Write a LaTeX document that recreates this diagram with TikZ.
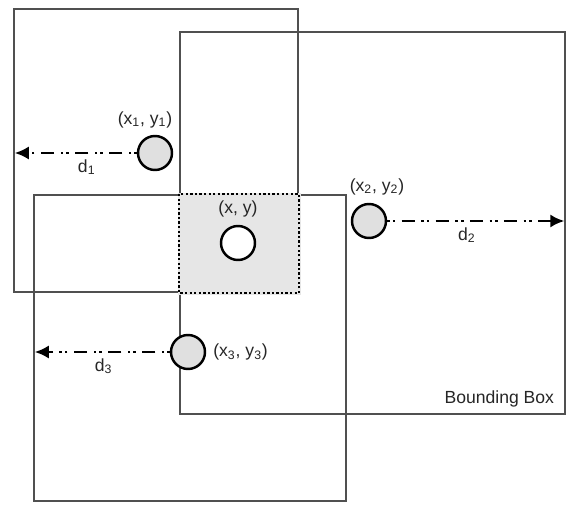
\documentclass[tikz,border=0pt]{standalone}
\usepackage{fontspec}
\setmainfont{Liberation Sans}
\usetikzlibrary{arrows.meta, positioning}
\definecolor{boxgray}{HTML}{505050}
\definecolor{ptgray}{HTML}{E0E0E0}
\definecolor{overlapgray}{HTML}{E6E6E6}

\begin{document}
\begin{tikzpicture}[
    region/.style={draw=boxgray, line width=1.2pt, anchor=north west, inner sep=0pt},
    pt/.style={circle, draw=black, line width=1.4pt, fill=ptgray,
               minimum size=0.68cm, inner sep=0pt},
    lbl/.style={font=\fontsize{10}{12}\selectfont, text=black!85, inner sep=1pt},
    dist/.style={-{Latex[length=8pt, width=7.5pt]}, line width=1.4pt,
                 dash pattern=on 1.4pt off 1.8pt on 1.4pt off 3.6pt on 7.6pt off 3.6pt}
  ]
  \useasboundingbox (0,0) rectangle (11.38,-10.26);

  % the three boxes
  \node[region, minimum width=5.68cm, minimum height=5.66cm] (box1) at (0.26,-0.16) {};
  \node[region, minimum width=7.70cm, minimum height=7.64cm] (box2) at (3.58,-0.62) {};
  \node[region, minimum width=6.24cm, minimum height=6.12cm] (box3) at (0.66,-3.88) {};
  \node[lbl, anchor=south east] (bbox) at ([shift={(-0.2,0.12)}]box2.south east) {Bounding Box};

  % overlap of all three
  \filldraw[fill=overlapgray, draw=overlapgray, line width=1.6pt]
    (box2.west |- box3.north) rectangle (box1.south east);
  \draw[line width=1.3pt, dash pattern=on 1.3pt off 1.3pt]
    (box2.west |- box3.north) rectangle (box1.south east);

  % points
  \node[pt] (p1) at (3.10,-3.06) {};
  \node[pt, fill=white] (p) at (4.76,-4.86) {};
  \node[pt] (p2) at (7.38,-4.42) {};
  \node[pt] (p3) at (3.76,-7.04) {};

  \node[lbl, above=1mm of p1, xshift=-2mm] (l1) {(x\textsubscript{1}, y\textsubscript{1})};
  \node[lbl, above=1.2mm of p] (l) {(x, y)};
  \node[lbl, above=1.2mm of p2, xshift=1.6mm] (l2) {(x\textsubscript{2}, y\textsubscript{2})};
  \node[lbl, right=1mm of p3] (l3) {(x\textsubscript{3}, y\textsubscript{3})};

  % distances to the box edges
  \coordinate (e1) at (p1 -| box1.west);
  \coordinate (e2) at (p2 -| box2.east);
  \coordinate (e3) at (p3 -| box3.west);
  \draw[dist] (p1.west) -- node[lbl, below=2pt, pos=0.41] {d\textsubscript{1}} ([xshift=1pt]e1);
  \draw[dist] (p2.east) -- node[lbl, below=2pt, pos=0.45] {d\textsubscript{2}} ([xshift=-1pt]e2);
  \draw[dist] (p3.west) -- node[lbl, below=2pt, pos=0.49] {d\textsubscript{3}} ([xshift=1pt]e3);
\end{tikzpicture}
\end{document}
